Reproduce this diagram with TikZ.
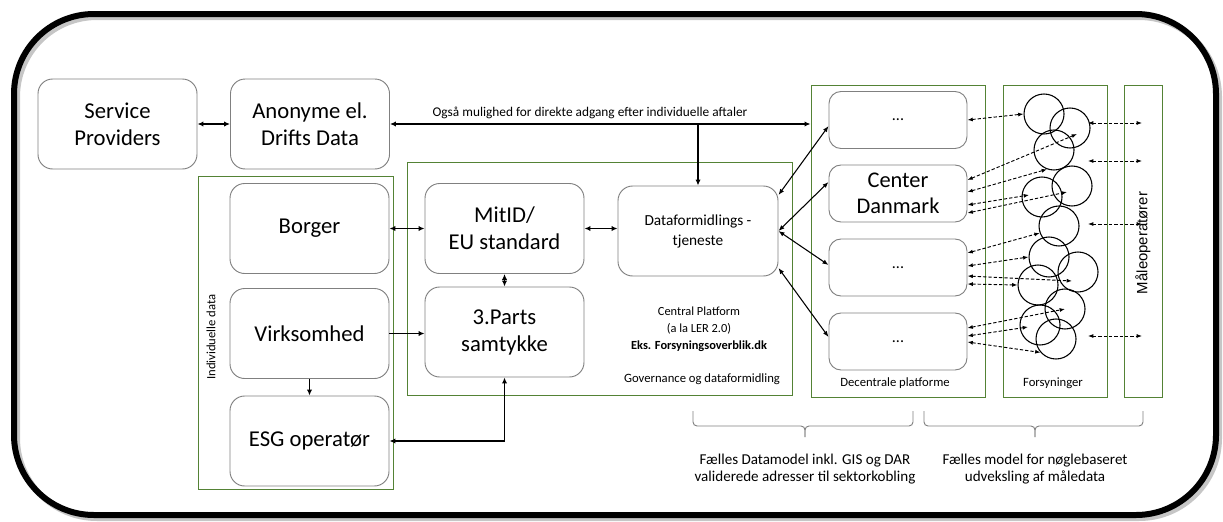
\documentclass[tikz,border=0pt]{standalone}
\usepackage{fontspec}
\setmainfont{Carlito}
\newfontfamily\arialfont{Liberation Sans}
\usepackage{xcolor}
\usepackage{tikz}
\usetikzlibrary{arrows.meta,calc}

\definecolor{frameGreen}{RGB}{84,130,53}
\definecolor{boxGray}{RGB}{128,128,128}

\tikzset{
  roundbox/.style={draw=boxGray, line width=0.7pt, rounded corners=11pt, align=center, inner sep=2pt},
  bigbox/.style={roundbox, minimum width=119.25pt, minimum height=67.5pt, font=\fontsize{17pt}{20.25pt}\selectfont},
  platbox/.style={roundbox, rounded corners=9pt, minimum width=103.5pt, minimum height=42.75pt, font=\fontsize{16.8pt}{19.5pt}\selectfont},
  groupbox/.style={draw=frameGreen, line width=0.75pt},
  ring/.style={circle, draw, line width=0.8pt, minimum size=30pt, inner sep=0pt},
  link/.style={line width=1.3pt, >={Latex[length=4.5pt,width=4pt]}},
  thinlink/.style={line width=0.8pt, >={Latex[length=4.5pt,width=3.5pt]}},
  dlink/.style={line width=0.7pt, dash pattern=on 2.5pt off 1.5pt, <->, >={Latex[length=4pt,width=3pt]}},
  smalltext/.style={font=\fontsize{9.5pt}{12pt}\selectfont},
  bracetext/.style={align=center, font=\fontsize{11.3pt}{12.75pt}\selectfont},
  brace/.style={draw=boxGray, line width=0.7pt, rounded corners=3pt},
}

\begin{document}
\begin{tikzpicture}[x=0.75pt, y=-0.75pt]
        \useasboundingbox (0,0) rectangle (1223,521);
        % Outer frame
        \draw[gray!45, line width=4.5pt, rounded corners=60pt] (17,17) rectangle (1219,518);
        \draw[line width=4.5pt, rounded corners=60pt] (14,14) rectangle (1216,515);

        % Green groups
        \node[groupbox, minimum width=146.25pt, minimum height=234.75pt] (indiv) at (295.5,332.5) {};
        \node[groupbox, minimum width=288.75pt, minimum height=174.75pt] (central) at (599.5,278.5) {};
        \node[groupbox, minimum width=130.5pt, minimum height=234pt] (decent) at (898,241) {};
        \node[groupbox, minimum width=78pt, minimum height=234pt] (forsyn) at (1055,241) {};
        \node[groupbox, minimum width=28.5pt, minimum height=234pt] (maale) at (1143,241) {};

        % Left column
        \node[bigbox] (serv) at (117.5,124) {Service\\Providers};
        \node[bigbox] (anon) at (310,124) {Anonyme el.\\Drifts Data};
        \node[bigbox] (borger) at (309.5,228.5) {Borger};
        \node[bigbox] (virk) at (309.5,333.5) {Virksomhed};
        \node[bigbox] (esg) at (309.5,441) {ESG operatør};
        \node[smalltext, rotate=90] (indivlabel) at (211,337) {Individuelle data};

        % Central platform
        \node[bigbox] (mitid) at (504.5,228.5) {MitID/\\EU standard};
        \node[bigbox] (parts) at (504.5,332) {3.Parts\\samtykke};
        \node[bigbox, minimum width=120pt, font=\fontsize{11.5pt}{15pt}\selectfont] (dform) at (698,231) {Dataformidlings -\\tjeneste};
        \node[align=center, font=\fontsize{9.3pt}{12.75pt}\selectfont] (cplabel) at (699,329) {Central Platform\\(a la LER 2.0)\\\textbf{Eks. Forsyningsoverblik.dk}};
        \node[smalltext] (govlabel) at (702,379) {Governance og dataformidling};

        % Decentrale platforme
        \node[platbox] (d1) at (898,120) {\fontsize{12pt}{14pt}\selectfont ...};
        \node[platbox] (d2) at (898,193.5) {Center\\Danmark};
        \node[platbox] (d3) at (898,267.5) {\fontsize{12pt}{14pt}\selectfont ...};
        \node[platbox] (d4) at (898,341.5) {\fontsize{12pt}{14pt}\selectfont ...};
        \node[smalltext] (declabel) at (895,383) {Decentrale platforme};

        % Forsyninger
        \foreach \cx/\cy [count=\i] in {1044/114, 1070/128, 1054/150, 1072/186, 1042/197, 1059/226,
                                       1049/257, 1078/272, 1038/285, 1065/309, 1040/325, 1056/339}
          \node[ring] (c\i) at (\cx,\cy) {};
        \node[smalltext] (forlabel) at (1053,383) {Forsyninger};

        % Maaleoperatoerer
        \node[rotate=90, font=\arialfont\fontsize{11.2pt}{13pt}\selectfont] (maalelabel) at (1143,243) {Måleoperatører};

        % Arrows
        \draw[link, <->] (serv) -- (anon);
        \draw[link, <->] (anon.east) -- (anon.east -| decent.west);
        \node[font=\fontsize{10pt}{12pt}\selectfont] (direct) at (590,113) {Også mulighed for direkte adgang efter individuelle aftaler};
        \draw[link, ->] (dform.north |- anon.east) -- (dform.north);
        \draw[link, <->] (borger) -- (mitid);
        \draw[link, <->] (mitid.east) -- (mitid.east -| dform.west);
        \draw[link, <->] (mitid) -- (parts);
        \draw[link, ->] (virk.east) -- (virk.east -| parts.west);
        \draw[link, ->] (virk) -- (esg);
        \draw[link, <->] (esg.east) -| (parts.south);

        \draw[thinlink, <->] ($(dform.east)+(0,-36)$) -- ($(d1.west)+(0,6)$);
        \draw[thinlink, <->] (dform.east) -- ($(d2.west)+(0,-11.5)$);
        \draw[thinlink, <->] (dform.east) -- ($(d3.west)+(0,-2.5)$);
        \draw[thinlink, <->] ($(dform.east)+(0,37)$) -- ($(d4.west)+(0,-4.5)$);

        \draw[dlink] (d1.east) -- (c1.west);
        \draw[dlink] ($(d2.east)+(0,-13.5)$) -- ($(c2)+(7,6)$);
        \draw[dlink] ($(d2.east)+(0,-1.5)$) -- (c3.-110);
        \draw[dlink] ($(d2.east)+(0,11.5)$) -- ($(c5)+(-13,-2)$);
        \draw[dlink] ($(d2.east)+(0,19.5)$) -- ($(c4)+(-5,6)$);
        \draw[dlink] ($(d3.east)+(0,-14.5)$) -- (c6.-160);
        \draw[dlink] ($(d3.east)+(0,-1.5)$) -- (c7.west);
        \draw[dlink] ($(d3.east)+(0,8.5)$) -- ($(c8)+(-6,9)$);
        \draw[dlink] ($(d3.east)+(0,16.5)$) -- (c9.west);
        \draw[dlink] ($(d4.east)+(0,-13.5)$) -- (c10.center);
        \draw[dlink] ($(d4.east)+(0,-5.5)$) -- ($(c11)+(-12,2)$);
        \draw[dlink] ($(d4.east)+(0,0.5)$) -- (c12.-139);

        \foreach \y [count=\i] in {123,161,224,336} {
          \coordinate (s\i) at (1088,\y);
          \coordinate (m\i) at (1142,\y);
          \draw[dlink] (s\i) -- (m\i);
        }

        % Braces
        \draw[brace] (693,411) |- (805,426) -- (805,437);
        \draw[brace] (913,411) |- (805,426) -- (805,437);
        \node[bracetext] (datamodel) at (805,469.5) {Fælles Datamodel inkl. GIS og DAR\\validerede adresser til sektorkobling};
        \draw[brace] (924,411) |- (1035,426) -- (1035,437);
        \draw[brace] (1143,411) |- (1035,426) -- (1035,437);
        \node[bracetext] (noglemodel) at (1035,469.5) {Fælles model for nøglebaseret\\udveksling af måledata};
    \end{tikzpicture}
\end{document}
